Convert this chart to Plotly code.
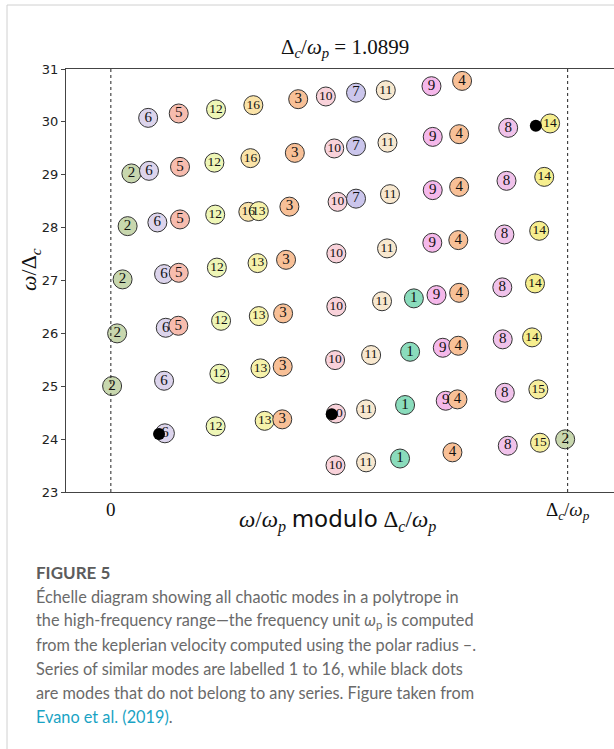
import plotly.graph_objects as go

# ---------------- data ----------------
D_RATIO = 1.0899  # Delta_c / omega_p

x1 = [0.723, 0.714, 0.702, 0.690]
y1 = [26.662, 25.652, 24.645, 23.633]
x2 = [0.049, 0.040, 0.028, 0.015, 0.003, 1.084]
y2 = [29.025, 28.028, 27.021, 26.000, 25.004, 23.996]
x3 = [0.447, 0.439, 0.426, 0.418, 0.411, 0.410, 0.409]
y3 = [30.429, 29.414, 28.397, 27.391, 26.378, 25.372, 24.374]
x4 = [0.838, 0.831, 0.831, 0.829, 0.831, 0.829, 0.827, 0.815]
y4 = [30.775, 29.767, 28.771, 27.764, 26.767, 25.766, 24.752, 23.750]
x5 = [0.162, 0.165, 0.165, 0.162, 0.161]
y5 = [30.159, 29.149, 28.155, 27.146, 26.144]
x6 = [0.089, 0.091, 0.111, 0.127, 0.131, 0.127, 0.129]
y6 = [30.076, 29.074, 28.098, 27.121, 26.106, 25.104, 24.110]
x7 = [0.585, 0.585, 0.585]
y7 = [30.552, 29.541, 28.548]
x8 = [0.948, 0.944, 0.939, 0.934, 0.935, 0.940, 0.947]
y8 = [29.887, 28.885, 27.871, 26.870, 25.887, 24.877, 23.875]
x9 = [0.765, 0.768, 0.768, 0.767, 0.777, 0.792, 0.799]
y9 = [30.675, 29.716, 28.709, 27.713, 26.724, 25.728, 24.726]
x10 = [0.513, 0.533, 0.541, 0.538, 0.538, 0.535, 0.537, 0.536]
y10 = [30.480, 29.497, 28.488, 27.512, 26.507, 25.495, 24.484, 23.505]
x11 = [0.656, 0.660, 0.666, 0.659, 0.647, 0.621, 0.609, 0.609]
y11 = [30.599, 29.607, 28.633, 27.607, 26.607, 25.590, 24.563, 23.561]
x12 = [0.251, 0.247, 0.249, 0.253, 0.263, 0.259, 0.250]
y12 = [30.236, 29.229, 28.246, 27.244, 26.238, 25.236, 24.242]
x13 = [0.353, 0.350, 0.353, 0.357, 0.367]
y13 = [28.312, 27.329, 26.327, 25.338, 24.346]
x14 = [1.048, 1.034, 1.022, 1.012, 1.005]
y14 = [29.970, 28.960, 27.940, 26.945, 25.924]
x15 = [1.020, 1.024]
y15 = [24.941, 23.932]
x16 = [0.340, 0.333, 0.328]
y16 = [30.316, 29.314, 28.299]

x_unassigned = [1.014, 0.115, 0.527]
y_unassigned = [29.925, 24.096, 24.469]

series_labels = [str(i) for i in range(1, 17)]
series_colors = [
    "#8adcbc", "#c8d7ae", "#f8c097", "#f8c097", "#f7bcae", "#dcd4ec",
    "#cbc6ec", "#f0c2ea", "#f5b8ea", "#f9d2da", "#f8e8cf", "#eef6b6",
    "#f6f2aa", "#f6ee8e", "#f6ee9c", "#fae3a8",
]
y_ticks = [23, 24, 25, 26, 27, 28, 29, 30, 31]

# ---------------- build ----------------
xs = [x1, x2, x3, x4, x5, x6, x7, x8, x9, x10, x11, x12, x13, x14, x15, x16]
ys = [y1, y2, y3, y4, y5, y6, y7, y8, y9, y10, y11, y12, y13, y14, y15, y16]

pts = []
for k in range(16):
    for xv, yv in zip(xs[k], ys[k]):
        pts.append((yv, xv, series_labels[k], series_colors[k]))
pts.sort()  # lower frequencies drawn first

fig = go.Figure()
fig.add_trace(go.Scatter(
    x=[p[1] for p in pts], y=[p[0] for p in pts],
    mode="markers+text",
    text=[p[2] for p in pts],
    textposition="middle center",
    textfont=dict(family="Liberation Serif",
                  size=[15 if len(p[2]) == 1 else 13.5 for p in pts], color="#111"),
    marker=dict(size=19, color=[p[3] for p in pts],
                line=dict(color="#333", width=1)),
    hoverinfo="skip", showlegend=False,
))
fig.add_trace(go.Scatter(
    x=x_unassigned, y=y_unassigned, mode="markers",
    marker=dict(size=12, color="black"),
    hoverinfo="skip", showlegend=False,
))

for xv in [0, D_RATIO]:
    fig.add_shape(type="line", x0=xv, x1=xv, y0=y_ticks[0], y1=y_ticks[-1],
                  xref="x", yref="y",
                  line=dict(color="#222", width=1, dash="3px,3px"))

W, H = 614, 749
L, R, T, B = 66, 0, 69, 257
pw, ph = W - L - R, H - T - B


def px(xp):
    return (xp - L) / pw


def py(yp):
    return (H - B - yp) / ph


# page frame lines (card border)
fig.add_shape(type="line", xref="paper", yref="paper",
              x0=px(7), x1=px(614), y0=py(5), y1=py(5),
              line=dict(color="#d0d0d0", width=1))
fig.add_shape(type="line", xref="paper", yref="paper",
              x0=px(7), x1=px(7), y0=py(5), y1=py(749),
              line=dict(color="#d0d0d0", width=1))

serif = "Liberation Serif"
ann = []


def add_ann(text, xp, yp, size, family, color="#111", xanchor="center", angle=0):
    ann.append(dict(text=text, x=px(xp), y=py(yp), xref="paper", yref="paper",
                    xanchor=xanchor, yanchor="middle", textangle=angle,
                    showarrow=False, font=dict(family=family, size=size, color=color)))


add_ann("Δ<sub><i>c</i></sub>/<i>ω</i><sub><i>p</i></sub> = 1.0899", 345, 48, 21, serif)
add_ann("<i>ω</i>/<i>ω</i><sub><i>p</i></sub> <span style='font-family:DejaVu Sans'>modulo</span> "
        "Δ<sub><i>c</i></sub>/<i>ω</i><sub><i>p</i></sub>", 337, 521, 23, serif)
add_ann("<i>ω</i>/Δ<sub><i>c</i></sub>", 30, 270, 22, serif, angle=-90)

cap_font = "Lato"
cap_color = "#6a6a6a"
add_ann("<b>FIGURE 5</b>", 34, 572, 17, cap_font, color="#5c5c5c", xanchor="left")
cap_lines = [
    "Échelle diagram showing all chaotic modes in a polytrope in",
    "the high-frequency range—the frequency unit <i>ω</i><sub>p</sub> is computed",
    "from the keplerian velocity computed using the polar radius –.",
    "Series of similar modes are labelled 1 to 16, while black dots",
    "are modes that do not belong to any series. Figure taken from",
    "<span style='color:#1aa3c4'>Evano et al. (2019)</span>.",
]
for i, line in enumerate(cap_lines):
    add_ann(line, 34, 596 + 24 * i, 16.3, cap_font, color=cap_color, xanchor="left")

fig.update_layout(
    width=W, height=H,
    margin=dict(l=L, r=R, t=T, b=B),
    paper_bgcolor="white", plot_bgcolor="white",
    annotations=ann,
    xaxis=dict(range=[-0.107, 1.2005], tickvals=[0, D_RATIO],
               ticktext=["0", "Δ<sub><i>c</i></sub>/<i>ω</i><sub><i>p</i></sub>"],
               tickfont=dict(family=serif, size=19, color="#111"),
               showgrid=False, zeroline=False, showline=True, mirror=True,
               linecolor="#444", linewidth=1.2, ticks=""),
    yaxis=dict(range=[23, 31], tickvals=y_ticks,
               tickfont=dict(family="DejaVu Sans", size=13, color="#222"),
               showgrid=False, zeroline=False, showline=True,
               linecolor="#444", linewidth=1.2, ticks="outside", ticklen=4,
               tickcolor="#444"),
)

fig.write_html("out.html", config={"displayModeBar": False},
               post_script="document.body.style.margin='0';")
